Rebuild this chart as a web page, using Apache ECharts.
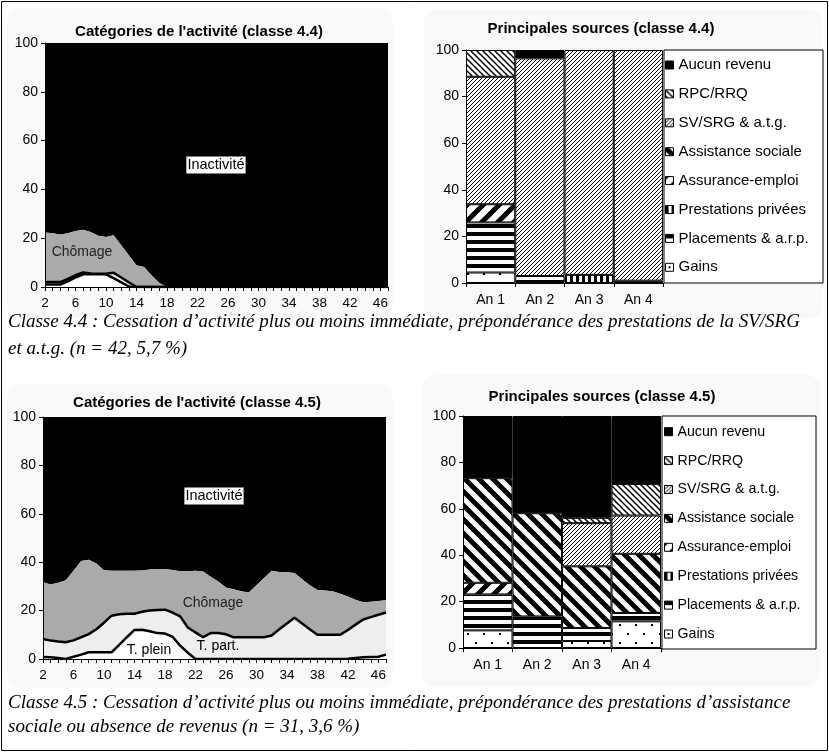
<!DOCTYPE html>
<html><head><meta charset="utf-8">
<script src="https://cdn.jsdelivr.net/npm/echarts@6/dist/echarts.min.js"></script>
<style>html,body{margin:0;padding:0;background:#fff}#c{width:829px;height:752px}</style>
</head><body><div id="c"></div>
<script>
// ---------- data ----------
const months = ['2','3','4','5','6','7','8','9','10','11','12','13','14','15','16','17','18','19','20','21','22','23','24','25','26','27','28','29','30','31','32','33','34','35','36','37','38','39','40','41','42','43','44','45','46','47'];
const years = ['An 1','An 2','An 3','An 4'];

// classe 4.4 - activity categories (%)
const tPlein44 = [1,1,1,2.3,3.9,5.2,5.2,5.2,5.2,3.6,1.9,0.2,0,0,0,0,0,0,0,0,0,0,0,0,0,0,0,0,0,0,0,0,0,0,0,0,0,0,0,0,0,0,0,0,0,0];
const tPart44  = [1,1,1,1,0.9,0.8,0.3,0.2,0.2,2.2,2,1.7,0,0,0,0,0,0,0,0,0,0,0,0,0,0,0,0,0,0,0,0,0,0,0,0,0,0,0,0,0,0,0,0,0,0];
const chom44   = [20.3,20,19.5,18.7,18.2,17.5,17,15.6,15.1,15.4,13.2,11.1,8.9,8.2,4.7,1.6,0,0,0,0,0,0,0,0,0,0,0,0,0,0,0,0,0,0,0,0,0,0,0,0,0,0,0,0,0,0];
const inact44  = [77.7,78,78.5,78,77,76.5,77.5,79,79.5,78.8,82.9,87,91.1,91.8,95.3,98.4,100,100,100,100,100,100,100,100,100,100,100,100,100,100,100,100,100,100,100,100,100,100,100,100,100,100,100,100,100,100];

// classe 4.5 - activity categories (%)
const tPlein45 = [0.8,0.7,0.4,0,0.9,1.8,2.8,2.8,2.8,2.8,5.8,9,12,12.1,11.5,10.7,10.5,9.2,5.5,2.6,0,0,0,0,0,0,0,0,0,0,0,0,0,0,0,0,0,0,0,0,0.1,0.4,0.7,0.8,0.9,1.8];
const tPart45  = [7.5,6.9,6.8,6.9,6.8,7.2,7.5,9.5,12.2,15.1,12.7,9.7,6.7,7.4,8.5,9.5,9.9,10,12.1,10.4,11,9,10.7,10.7,10.2,9,9,9,9,9,9.7,12.3,14.7,17,14.7,12.3,10,10,10,10,11.9,13.8,15.6,16.5,17.4,17.4];
const chom45   = [23.4,23.2,24.3,25.6,28.8,31.5,30.7,27.2,21.7,18.6,18,17.8,17.8,17.1,17,17,16.8,17.6,18.7,23.3,25.5,27.2,23.3,21.3,19.3,19.8,19,18.5,21.5,24.5,26.8,23.7,21.1,18.5,18.3,18.2,18.5,18.3,18,17,13.8,10.3,7.2,6.4,5.7,5.1];
const inact45  = [68.3,69.2,68.5,67.5,63.5,59.5,59,60.5,63.3,63.5,63.5,63.5,63.5,63.4,63,62.8,62.8,63.2,63.7,63.7,63.5,63.8,66,68,70.5,71.2,72,72.5,69.5,66.5,63.5,64,64.2,64.5,67,69.5,71.5,71.7,72,73,74.2,75.5,76.5,76.3,76,75.7];

// income sources (%), bottom to top
const sourceNames = ['Gains','Placements & a.r.p.','Prestations privées','Assurance-emploi','Assistance sociale','SV/SRG & a.t.g.','RPC/RRQ','Aucun revenu'];
const gains44  = [4.5,0,0,0];
const plac44   = [21.5,3,0,1];
const prest44  = [0,0,3.5,0];
const ae44     = [7.8,0,0,0];
const assist44 = [0,0,0,0];
const sv44     = [54.7,93.4,96.5,99];
const rpc44    = [11.5,0,0,0];
const aucun44  = [0,3.6,0,0];

const gains45  = [7.6,0,3,11.5];
const plac45   = [15.5,13.6,5.6,3.6];
const prest45  = [0,0,0,0];
const ae45     = [5,0,0,0];
const assist45 = [45.1,44.5,26.6,25.5];
const sv45     = [0,0,18.6,16.5];
const rpc45    = [0,0,2.3,13.6];
const aucun45  = [26.8,41.9,43.9,29.3];

// ---------- patterns ----------
function tile(w, h, draw) {
  const c = document.createElement('canvas'); c.width = w; c.height = h;
  const g = c.getContext('2d'); g.fillStyle = '#fff'; g.fillRect(0,0,w,h);
  g.fillStyle = '#000'; g.strokeStyle = '#000'; draw(g); return {image: c, repeat: 'repeat'};
}
function diag(P, w, dir) {
  return tile(P, P, g => {
    g.lineWidth = w; g.beginPath();
    if (dir === '/') { for (const c of [0,P,2*P]) { g.moveTo(-P, c+P); g.lineTo(2*P, c-2*P); } }
    else { for (const c of [-P,0,P]) { g.moveTo(-P, -P+c); g.lineTo(2*P, 2*P+c); } }
    g.stroke();
  });
}
const fills = [
  tile(16, 18, g => { g.fillRect(3,3,2,2); g.fillRect(11,12,2,2); }),
  tile(8, 8, g => g.fillRect(0,0,8,4)),
  tile(6, 6, g => g.fillRect(0,0,3,6)),
  diag(16, 5, '/'),
  diag(14, 5, '\\'),
  diag(4, 1.0, '/'),
  diag(6, 1.5, '\\'),
  '#000'
];

// ---------- series builders ----------
function barSeries(arrs, ai, stack) {
  return sourceNames.map((n, i) => ({
    type: 'bar', name: n, xAxisIndex: ai, yAxisIndex: ai, stack, barCategoryGap: '0%',
    data: arrs[i].map(v => v === 0 ? null : v),
    itemStyle: {color: fills[i], borderColor: '#000', borderWidth: 1},
    emphasis: {disabled: true}, z: 3
  }));
}
function areaSeries(name, data, ai, color, lw, z) {
  return {type: 'line', name, xAxisIndex: ai, yAxisIndex: ai, stack: 'act' + ai, data,
    symbol: 'none', showSymbol: false, lineStyle: {width: lw, color: '#000'},
    areaStyle: {color, opacity: 1}, itemStyle: {color}, z, emphasis: {disabled: true}};
}
const axisCol = '#000';
function catAreaAxis(gi) {
  return {type: 'category', gridIndex: gi, data: months, boundaryGap: false, z: 10,
    axisLine: {show: true, lineStyle: {color: axisCol, width: 1}},
    axisTick: {show: true, interval: 0, length: 4, lineStyle: {color: axisCol}},
    axisLabel: {interval: 3, fontSize: 13.5, color: '#000', margin: 9, fontFamily: 'Liberation Sans'},
    splitLine: {show: false}};
}
function catBarAxis(gi) {
  return {type: 'category', gridIndex: gi, data: years, z: 10,
    axisLine: {show: true, lineStyle: {color: axisCol, width: 1}},
    axisTick: {show: true, length: 4, lineStyle: {color: axisCol}},
    axisLabel: {fontSize: 14, color: '#000', margin: 10, fontFamily: 'Liberation Sans'},
    splitLine: {show: false}};
}
function valAxis(gi) {
  return {type: 'value', gridIndex: gi, min: 0, max: 100, interval: 20, z: 10,
    axisLine: {show: true, lineStyle: {color: axisCol, width: 1}},
    axisTick: {show: true, length: 4, lineStyle: {color: axisCol}},
    axisLabel: {fontSize: 14, color: '#000', margin: 7, fontFamily: 'Liberation Sans'},
    splitLine: {show: false}};
}

const legendNames = sourceNames.slice().reverse();
const F = 'Liberation Sans';
const capFont = {fontFamily: 'Liberation Serif', fontStyle: 'italic', fontSize: 19, fill: '#000'};

function txt(x, y, text, style, extra) {
  return Object.assign({type: 'text', x, y, z: 100, style: Object.assign({text, textAlign: 'center', textVerticalAlign: 'middle', fontFamily: F, fill: '#000'}, style)}, extra || {});
}

const option = {
  animation: false,
  backgroundColor: '#fff',
  grid: [
    {left: 45, top: 43, width: 343, height: 244, outerBoundsMode: 'none'},
    {left: 466, top: 50, width: 197, height: 233, outerBoundsMode: 'none'},
    {left: 43, top: 417, width: 343, height: 242, outerBoundsMode: 'none'},
    {left: 463, top: 416, width: 198, height: 232, outerBoundsMode: 'none'}
  ],
  xAxis: [catAreaAxis(0), catBarAxis(1), catAreaAxis(2), catBarAxis(3)],
  yAxis: [valAxis(0), valAxis(1), valAxis(2), valAxis(3)],
  legend: [
    {data: legendNames, orient: 'vertical', left: 665, top: 56, padding: 0, itemWidth: 8, itemHeight: 8, itemGap: 10.9,
     icon: 'rect', selectedMode: false, z: 20, itemStyle: {borderColor: '#000', borderWidth: 1},
     textStyle: {fontSize: 15, lineHeight: 18, color: '#000', fontFamily: F}},
    {data: legendNames, orient: 'vertical', left: 664, top: 422.7, padding: 0, itemWidth: 8, itemHeight: 8, itemGap: 10.9,
     icon: 'rect', selectedMode: false, z: 20, itemStyle: {borderColor: '#000', borderWidth: 1},
     textStyle: {fontSize: 14.2, lineHeight: 18, color: '#000', fontFamily: F}}
  ],
  series: [
    areaSeries('T. plein', tPlein44, 0, '#ffffff', 2.5, 8),
    areaSeries('T. part.', tPart44, 0, '#eeeeee', 2.5, 7),
    areaSeries('Chômage', chom44, 0, '#aaaaaa', 0, 6),
    areaSeries('Inactivité', inact44, 0, '#000000', 0, 5),
    areaSeries('T. plein', tPlein45, 2, '#ffffff', 2.5, 8),
    areaSeries('T. part.', tPart45, 2, '#eeeeee', 2.5, 7),
    areaSeries('Chômage', chom45, 2, '#aaaaaa', 0, 6),
    areaSeries('Inactivité', inact45, 2, '#000000', 0, 5),
    ...barSeries([gains44, plac44, prest44, ae44, assist44, sv44, rpc44, aucun44], 1, 's44'),
    ...barSeries([gains45, plac45, prest45, ae45, assist45, sv45, rpc45, aucun45], 3, 's45')
  ],
  graphic: [
    {type: 'rect', z: -10, shape: {x: 1.5, y: 1.5, width: 826, height: 749}, style: {fill: '#fff', stroke: '#000', lineWidth: 1}},
    {type: 'rect', z: -5, shape: {x: 7, y: 8, width: 386, height: 311, r: 14}, style: {fill: '#f9f9f9'}},
    {type: 'rect', z: -5, shape: {x: 424, y: 9, width: 398, height: 310, r: 14}, style: {fill: '#f9f9f9'}},
    {type: 'rect', z: -5, shape: {x: 7, y: 384, width: 386, height: 304, r: 14}, style: {fill: '#f9f9f9'}},
    {type: 'rect', z: -5, shape: {x: 422, y: 375, width: 398, height: 312, r: 14}, style: {fill: '#f9f9f9'}},
    {type: 'rect', z: 1, shape: {x: 664, y: 50, width: 159, height: 233}, style: {fill: '#fff', stroke: '#000', lineWidth: 1}},
    {type: 'rect', z: 1, shape: {x: 662, y: 416, width: 154, height: 233}, style: {fill: '#fff', stroke: '#000', lineWidth: 1}},
    txt(199, 32, "Catégories de l'activité (classe 4.4)", {fontSize: 15, fontWeight: 'bold'}),
    txt(601, 29, 'Principales sources (classe 4.4)', {fontSize: 15, fontWeight: 'bold'}),
    txt(197, 403, "Catégories de l'activité (classe 4.5)", {fontSize: 15, fontWeight: 'bold'}),
    txt(602, 397, 'Principales sources (classe 4.5)', {fontSize: 15, fontWeight: 'bold'}),
    txt(216, 165, 'Inactivité', {fontSize: 14.5, backgroundColor: '#fff', padding: [1, 1]}),
    txt(82, 252, 'Chômage', {fontSize: 14, fill: '#222'}),
    txt(214, 496, 'Inactivité', {fontSize: 14.5, backgroundColor: '#fff', padding: [1, 1]}),
    txt(213, 603, 'Chômage', {fontSize: 14, fill: '#222'}),
    txt(149, 650, 'T. plein', {fontSize: 14}),
    txt(218, 646, 'T. part.', {fontSize: 14}),
    txt(8, 322, 'Classe 4.4 : Cessation d’activité plus ou moins immédiate, prépondérance des prestations de la SV/SRG', Object.assign({textAlign: 'left'}, capFont)),
    txt(8, 349, 'et a.t.g. (n = 42, 5,7 %)', Object.assign({textAlign: 'left'}, capFont)),
    txt(8, 703, 'Classe 4.5 : Cessation d’activité plus ou moins immédiate, prépondérance des prestations d’assistance', Object.assign({textAlign: 'left'}, capFont)),
    txt(8, 727, 'sociale ou absence de revenus (n = 31, 3,6 %)', Object.assign({textAlign: 'left'}, capFont))
  ]
};
const chart = echarts.init(document.getElementById('c'), null, {renderer: 'canvas'});
chart.setOption(option);
</script>
</body></html>
